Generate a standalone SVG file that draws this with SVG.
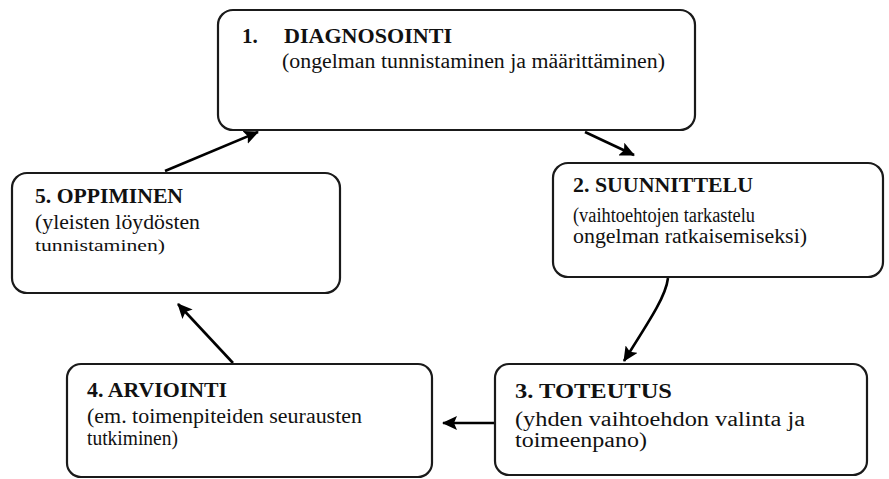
<svg xmlns="http://www.w3.org/2000/svg" width="889" height="479" viewBox="0 0 889 479">
<style>
.box{fill:#fff;stroke:#1a1a1a;stroke-width:2.2}
.t{font-family:"Liberation Serif",serif;font-weight:bold;font-size:21px;fill:#111}
.s{font-family:"Liberation Serif",serif;font-size:20px;fill:#111}
.c{fill:none;stroke:#000;stroke-width:2.6;marker-end:url(#ah)}
</style>
<defs>
<marker id="ah" markerUnits="userSpaceOnUse" markerWidth="16" markerHeight="14" refX="14" refY="7" orient="auto">
<path d="M0,0 L15,7 L0,14 L3,7 Z" fill="#000"/>
</marker>
</defs>
<rect width="889" height="479" fill="#fff"/>
<g id="connectors">
<path class="c" d="M165,171 L258,132"/>
<path class="c" d="M585,132 L634,155"/>
<path class="c" d="M668,278 C666,296 650,320 624,361"/>
<path class="c" d="M495,423 L443,423"/>
<path class="c" d="M233,363 L178,304"/>
</g>
<g id="n1">
<rect class="box" x="218" y="10" width="477" height="120" rx="15"/>
<text class="t" x="242" y="43">1.</text>
<text class="t" x="284" y="43" textLength="168" lengthAdjust="spacingAndGlyphs">DIAGNOSOINTI</text>
<text class="s" x="282" y="68" textLength="383" lengthAdjust="spacingAndGlyphs">(ongelman tunnistaminen ja määrittäminen)</text>
</g>
<g id="n2">
<rect class="box" x="553" y="163" width="330" height="114" rx="15"/>
<text class="t" x="573" y="192" textLength="180" lengthAdjust="spacingAndGlyphs">2. SUUNNITTELU</text>
<text class="s" x="573" y="222" textLength="182" lengthAdjust="spacingAndGlyphs">(vaihtoehtojen tarkastelu</text>
<text class="s" x="573" y="243" textLength="234" lengthAdjust="spacingAndGlyphs">ongelman ratkaisemiseksi)</text>
</g>
<g id="n3">
<rect class="box" x="495" y="364" width="372" height="111" rx="14"/>
<text class="t" x="515" y="398" textLength="157" lengthAdjust="spacingAndGlyphs">3. TOTEUTUS</text>
<text class="s" x="515" y="426" textLength="290" lengthAdjust="spacingAndGlyphs">(yhden vaihtoehdon valinta ja</text>
<text class="s" x="515" y="447" textLength="132" lengthAdjust="spacingAndGlyphs">toimeenpano)</text>
</g>
<g id="n4">
<rect class="box" x="67" y="364" width="365" height="113" rx="14"/>
<text class="t" x="87" y="397" textLength="140" lengthAdjust="spacingAndGlyphs">4. ARVIOINTI</text>
<text class="s" x="87" y="423" textLength="275" lengthAdjust="spacingAndGlyphs">(em. toimenpiteiden seurausten</text>
<text class="s" x="87" y="445" textLength="91" lengthAdjust="spacingAndGlyphs">tutkiminen)</text>
</g>
<g id="n5">
<rect class="box" x="12" y="173" width="328" height="120" rx="15"/>
<text class="t" x="35" y="203" textLength="148" lengthAdjust="spacingAndGlyphs">5. OPPIMINEN</text>
<text class="s" x="35" y="229" textLength="165" lengthAdjust="spacingAndGlyphs">(yleisten löydösten</text>
<text class="s" x="35" y="251" style="font-size:16px" textLength="130" lengthAdjust="spacingAndGlyphs">tunnistaminen)</text>
</g>
</svg>
